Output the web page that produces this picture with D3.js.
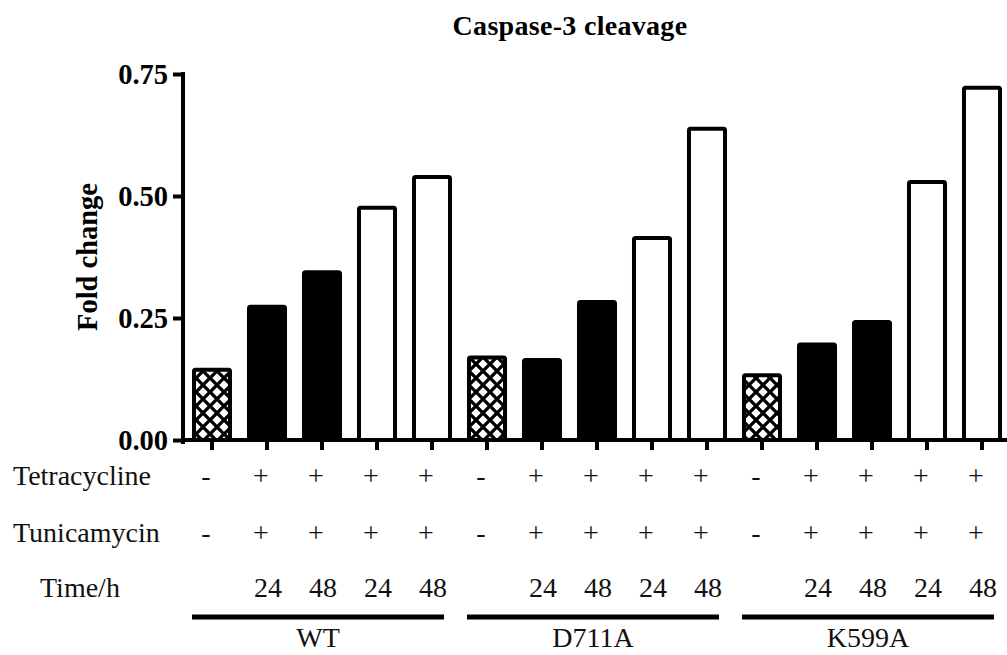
<!DOCTYPE html>
<html>
<head>
<meta charset="utf-8">
<script src="https://cdn.jsdelivr.net/npm/d3@7"></script>
<style>
  body { margin: 0; background: #fff; }
  svg { display: block; }
</style>
</head>
<body>
<script>
// groups and conditions
const groups = ['WT', 'D711A', 'K599A'];
const tetracycline = ['-', '+', '+', '+', '+'];
const tunicamycin = ['-', '+', '+', '+', '+'];
const timeLabels = ['', '24', '48', '24', '48'];
const barKinds = ['hatch', 'solid', 'solid', 'open', 'open'];

// fold change per group
const wtValues = [0.148, 0.277, 0.348, 0.480, 0.543];
const d711aValues = [0.173, 0.168, 0.287, 0.418, 0.642];
const k599aValues = [0.137, 0.200, 0.246, 0.533, 0.726];
const yTicks = [0, 0.25, 0.5, 0.75];

const allValues = [wtValues, d711aValues, k599aValues];
const data = [];
groups.forEach((g, gi) => {
    allValues[gi].forEach((v, i) => {
        data.push({group: g, idx: gi * 5 + i, pos: i, value: v, kind: barKinds[i]});
    });
});

const width = 1007, height = 655;
const serif = '"Liberation Serif", "Times New Roman", Times, serif';

const svg = d3.select('body').append('svg')
    .attr('width', width)
    .attr('height', height)
    .style('font-family', serif);

// crosshatch pattern
const tile = 14;
const defs = svg.append('defs');
const pat = defs.append('pattern')
    .attr('id', 'hatch')
    .attr('patternUnits', 'userSpaceOnUse')
    .attr('width', tile)
    .attr('height', tile);
pat.append('rect').attr('width', tile).attr('height', tile).attr('fill', '#fff');
pat.append('path')
    .attr('d', `M-2,-2 L${tile + 2},${tile + 2} M${tile + 2},-2 L-2,${tile + 2}`)
    .attr('stroke', '#000')
    .attr('stroke-width', 3.3);

// scales
const x = d3.scaleBand()
    .domain(d3.range(15))
    .range([184.5, 1009.5])
    .paddingInner(0.345)
    .paddingOuter(0.1725);
const y = d3.scaleLinear()
    .domain([0, 0.75])
    .range([440, 74]);

// bars
svg.append('g').selectAll('rect')
    .data(data)
    .enter()
    .append('rect')
    .attr('x', d => x(d.idx))
    .attr('y', d => y(d.value) + 2)
    .attr('width', x.bandwidth())
    .attr('height', d => y(0) - y(d.value) - 2)
    .attr('rx', 1.5)
    .attr('fill', d => d.kind === 'hatch' ? 'url(#hatch)' : d.kind === 'solid' ? '#000' : '#fff')
    .attr('stroke', '#000')
    .attr('stroke-width', 4);

// y axis
const yAxis = d3.axisLeft(y)
    .tickValues(yTicks)
    .tickFormat(d3.format('.2f'))
    .tickSize(10)
    .tickPadding(5);
const yg = svg.append('g')
    .attr('transform', 'translate(183,0)')
    .call(yAxis);
yg.select('.domain')
    .attr('d', 'M0,' + (y(0.75)) + 'V' + (y(0) + 2))
    .attr('stroke-width', 4)
    .attr('stroke-linecap', 'square');
yg.selectAll('.tick line').attr('stroke-width', 4);
yg.selectAll('.tick text')
    .style('font-family', serif)
    .style('font-size', '28.5px')
    .style('font-weight', 'bold')
    .attr('dy', '0.35em')
    .attr('fill', '#000');

// x axis
const xAxis = d3.axisBottom(x)
    .tickSize(10)
    .tickFormat('');
const xg = svg.append('g')
    .attr('transform', 'translate(0,' + y(0) + ')')
    .call(xAxis);
xg.select('.domain')
    .attr('d', 'M181,0H' + width)
    .attr('stroke-width', 4);
xg.selectAll('.tick line').attr('stroke-width', 4);

// title
svg.append('text')
    .text('Caspase-3 cleavage')
    .attr('x', 570)
    .attr('y', 35)
    .attr('text-anchor', 'middle')
    .style('font-size', '28px')
    .style('letter-spacing', '0.3px')
    .style('font-weight', 'bold');

// y axis label
svg.append('text')
    .text('Fold change')
    .attr('transform', 'translate(97,257) rotate(-90)')
    .attr('text-anchor', 'middle')
    .style('font-size', '28.5px')
    .style('font-weight', 'bold');

// condition table
const rows = [
    {label: 'Tetracycline', vals: tetracycline, y: 485, lx: 13, shift: -6},
    {label: 'Tunicamycin', vals: tunicamycin, y: 542, lx: 13, shift: -6},
    {label: 'Time/h', vals: timeLabels, y: 597, lx: 40, shift: 1}
];
const table = svg.append('g')
    .style('font-size', '28px')
    .attr('fill', '#111');
rows.forEach(r => {
    table.append('text')
        .text(r.label)
        .attr('x', r.lx)
        .attr('y', r.y);
    table.selectAll(null)
        .data(data)
        .enter()
        .append('text')
        .text(d => r.vals[d.pos])
        .attr('x', d => x(d.idx) + x.bandwidth() / 2 + r.shift)
        .attr('y', r.y)
        .attr('text-anchor', 'middle');
});

// group bars and names
groups.forEach((g, gi) => {
    const x0 = x(gi * 5) - 2;
    const x1 = x(gi * 5 + 4) + x.bandwidth() - 6;
    svg.append('line')
        .attr('x1', x0)
        .attr('x2', x1)
        .attr('y1', 617)
        .attr('y2', 617)
        .attr('stroke', '#000')
        .attr('stroke-width', 5);
    svg.append('text')
        .text(g)
        .attr('x', (x0 + x1) / 2)
        .attr('y', 647)
        .attr('text-anchor', 'middle')
        .attr('fill', '#111')
        .style('font-size', '28px');
});
</script>
</body>
</html>
